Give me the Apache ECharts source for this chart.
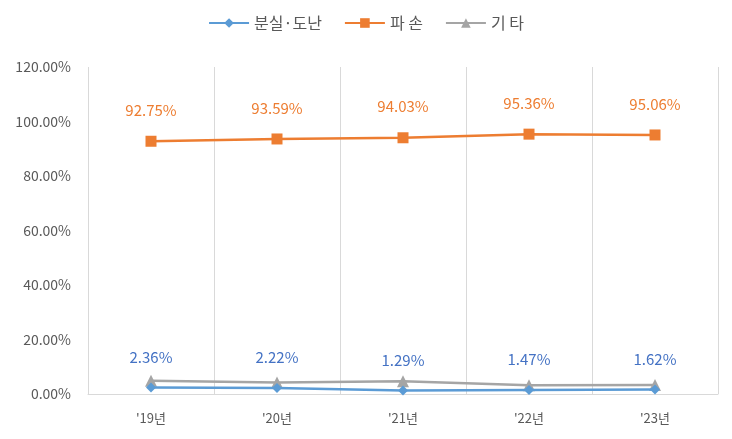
<!DOCTYPE html>
<html style="height: 100%">
<head>
    <meta charset="utf-8">
</head>
<body style="height: 100%; margin: 0; background: #fff">
<div id="container" style="height: 100%"></div>
<script src="https://cdn.jsdelivr.net/npm/echarts@6/dist/echarts.min.js"></script>
<script type="text/javascript">
    var years = ["'19년", "'20년", "'21년", "'22년", "'23년"];
    var lossTheft = [2.36, 2.22, 1.29, 1.47, 1.62];   // 분실·도난
    var damage = [92.75, 93.59, 94.03, 95.36, 95.06]; // 파 손
    var other = [4.89, 4.19, 4.68, 3.17, 3.32];       // 기 타
    var yTicks = [0, 20, 40, 60, 80, 100, 120];

    var font = '"Noto Sans CJK KR", "Noto Sans", sans-serif';
    var dom = document.getElementById("container");
    var myChart = echarts.init(dom);

    function pct(v) { return v.toFixed(2) + '%'; }

    var option = {
        animation: false,
        textStyle: { fontFamily: font },
        legend: {
            top: 10,
            left: 'center',
            itemWidth: 40,
            itemHeight: 12,
            itemGap: 22,
            textStyle: { fontSize: 16, color: '#595959', fontFamily: font },
            data: ['분실·도난', '파 손', '기 타']
        },
        grid: { left: 88, right: 14, top: 67, bottom: 45 },
        xAxis: {
            type: 'category',
            data: years,
            boundaryGap: true,
            axisLine: { lineStyle: { color: '#d9d9d9' } },
            axisTick: { show: false },
            splitLine: { show: true, lineStyle: { color: '#d9d9d9' } },
            axisLabel: { color: '#595959', fontSize: 13, margin: 18, fontFamily: font }
        },
        yAxis: {
            type: 'value',
            min: yTicks[0],
            max: yTicks[yTicks.length - 1],
            interval: 20,
            axisLine: { show: false },
            axisTick: { show: false },
            splitLine: { show: false },
            axisLabel: {
                color: '#595959', fontSize: 14, margin: 17, fontFamily: font,
                formatter: function (v) { return pct(v); }
            }
        },
        series: [
            {
                name: '분실·도난',
                type: 'line',
                data: lossTheft,
                symbol: 'diamond',
                symbolSize: 10,
                z: 3,
                lineStyle: { color: '#5B9BD5', width: 2.5 },
                itemStyle: { color: '#5B9BD5' },
                label: {
                    show: true, position: 'top', distance: 18,
                    color: '#4472C4', fontSize: 15, fontFamily: font,
                    formatter: function (p) { return pct(p.value); }
                }
            },
            {
                name: '파 손',
                type: 'line',
                data: damage,
                symbol: 'rect',
                symbolSize: 11,
                lineStyle: { color: '#ED7D31', width: 2.5 },
                itemStyle: { color: '#ED7D31' },
                label: {
                    show: true, position: 'top', distance: 18,
                    color: '#ED7D31', fontSize: 15, fontFamily: font,
                    formatter: function (p) { return pct(p.value); }
                }
            },
            {
                name: '기 타',
                type: 'line',
                data: other,
                symbol: 'triangle',
                symbolSize: 12,
                z: 2,
                lineStyle: { color: '#A5A5A5', width: 2.5 },
                itemStyle: { color: '#A5A5A5' }
            }
        ]
    };
    myChart.setOption(option);
</script>
</body>
</html>
